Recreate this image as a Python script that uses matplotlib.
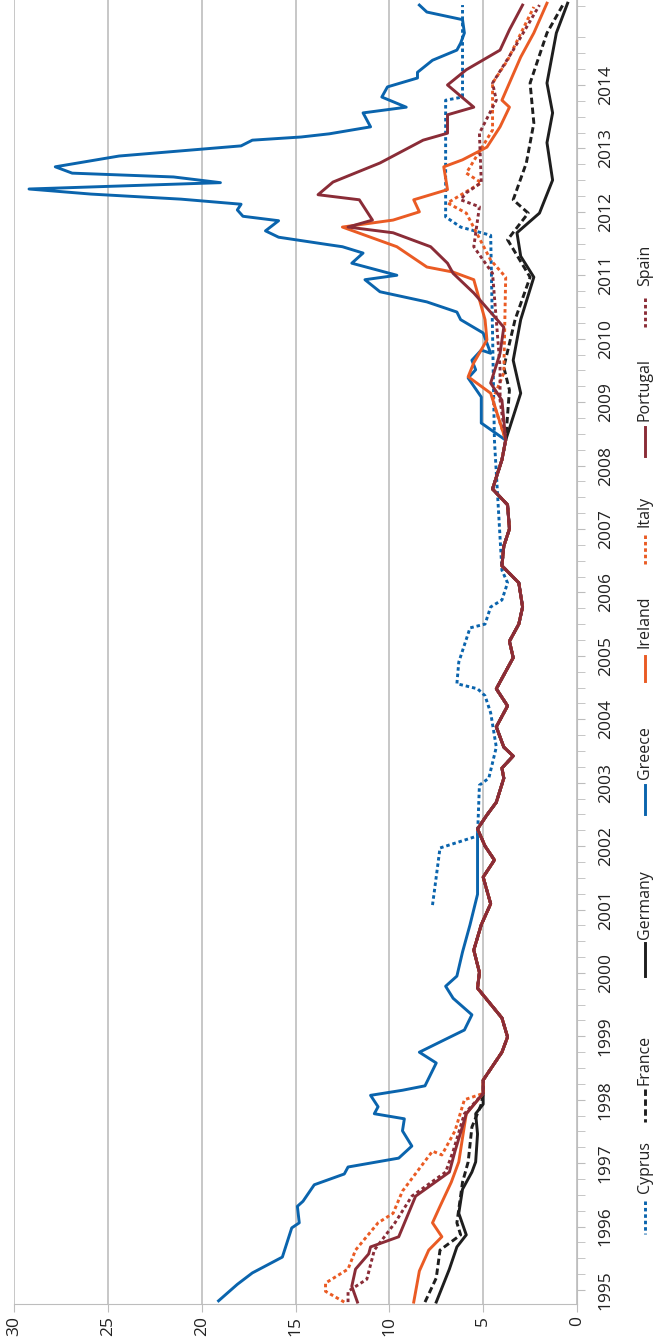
import matplotlib
matplotlib.use("Agg")
import matplotlib.pyplot as plt
from matplotlib.lines import Line2D

plt.rcParams['font.family'] = ['Open Sans', 'DejaVu Sans']

# years (fractional), 10-year government bond yields in %
# converged part shared by all (1998-2008)
core_t = [1998.1, 1998.31, 1998.75, 1998.99, 1999.29, 1999.76, 2000.01, 2000.36, 2000.76, 2001.09,
          2001.51, 2001.78, 2002.0, 2002.27, 2002.49, 2002.69, 2003.07, 2003.23, 2003.42, 2003.56,
          2003.88, 2004.21, 2004.48, 2004.97, 2005.23, 2005.5, 2005.77, 2006.15, 2006.42, 2006.73,
          2007.0, 2007.38, 2007.63, 2008.09, 2008.4]
core_v = [5.0, 5.0, 4.0, 3.7, 4.0, 5.3, 5.2, 5.5, 5.1, 4.6,
          5.0, 4.4, 4.9, 5.3, 4.8, 4.3, 3.9, 4.0, 3.4, 3.9,
          4.3, 3.7, 4.3, 3.4, 3.6, 3.1, 2.9, 3.1, 4.0, 3.9,
          3.6, 3.7, 4.5, 4.0, 3.8]

germany_early_t = [1994.81, 1995.33, 1995.68, 1995.87, 1996.21, 1996.59, 1996.86, 1997.02, 1997.46, 1997.78, 1997.93]
germany_early_v = [7.5, 6.8, 6.4, 5.9, 6.3, 6.1, 5.6, 5.4, 5.3, 5.4, 5.0]
germany_late_t = [2009.14, 2009.66, 2010.3, 2010.97, 2011.3, 2011.67, 2011.98, 2012.5, 2013.09, 2013.56, 2014.03, 2014.82, 2015.29]
germany_late_v = [3.0, 3.4, 3.0, 2.3, 3.0, 3.2, 2.0, 1.3, 1.6, 1.3, 1.6, 1.1, 0.5]

france_early_t = [1994.81, 1995.19, 1995.63, 1995.87, 1996.06, 1996.7, 1997.02, 1997.57, 1997.93]
france_early_v = [8.1, 7.5, 7.3, 6.2, 6.4, 6.1, 5.8, 5.6, 5.1]
france_late_t = [2009.19, 2009.55, 2010.3, 2010.97, 2011.56, 2011.98, 2012.19, 2012.77, 2013.4, 2014.03, 2014.82, 2015.29]
france_late_v = [3.6, 3.9, 3.3, 2.5, 3.7, 2.6, 3.4, 2.7, 2.3, 2.5, 1.6, 0.7]

ireland_early_t = [1994.81, 1995.3, 1995.63, 1995.84, 1996.06, 1996.32, 1996.7, 1997.02, 1997.78]
ireland_early_v = [8.7, 8.4, 7.9, 7.2, 7.7, 7.3, 6.7, 6.3, 5.9]
ireland_late_t = [2009.14, 2009.4, 2009.62, 2009.98, 2010.3, 2010.93, 2011.05, 2011.13, 2011.45, 2011.76,
                  2011.87, 2012.0, 2012.19, 2012.35, 2012.71, 2012.82, 2013.02, 2013.34, 2013.65, 2013.76,
                  2014.44, 2014.82, 2015.29]
ireland_late_v = [4.6, 5.8, 5.5, 4.8, 4.9, 5.5, 6.6, 8.0, 9.6, 12.5,
                  9.8, 8.4, 8.7, 6.9, 7.1, 6.1, 4.8, 4.1, 3.6, 4.0,
                  3.0, 2.3, 1.6]

portugal_early_t = [1994.81, 1995.06, 1995.33, 1995.57, 1995.68, 1995.84, 1996.48, 1996.86, 1997.19, 1997.78]
portugal_early_v = [11.7, 12.0, 11.8, 11.1, 11.0, 9.5, 8.6, 6.8, 6.5, 5.9]
portugal_late_t = [2009.03, 2009.3, 2009.77, 2010.18, 2010.72, 2011.03, 2011.19, 2011.45, 2011.67, 2011.76,
                   2011.87, 2012.19, 2012.27, 2012.47, 2012.77, 2013.13, 2013.24, 2013.53, 2013.65, 2014.0,
                   2014.24, 2014.55, 2014.87, 2015.26]
portugal_late_v = [4.0, 4.6, 4.1, 3.9, 5.5, 6.6, 6.9, 7.8, 9.8, 12.2,
                   10.9, 11.6, 13.8, 13.0, 10.5, 8.2, 6.9, 6.9, 5.5, 6.9,
                   5.9, 4.1, 3.6, 2.9]

italy_early_t = [1994.81, 1994.98, 1995.11, 1995.33, 1995.63, 1996.06, 1996.21, 1996.56, 1997.19, 1997.13, 1997.51, 1998.0]
italy_early_v = [12.4, 13.4, 13.4, 12.2, 11.8, 10.6, 9.8, 9.3, 7.7, 7.2, 6.5, 6.0]
italy_late_t = [2009.03, 2009.46, 2010.97, 2011.24, 2011.98, 2012.14, 2012.46, 2012.61, 2013.29, 2014.03, 2014.39, 2015.23]
italy_late_v = [4.5, 3.9, 3.8, 4.6, 5.9, 6.9, 5.1, 5.9, 4.5, 4.5, 3.7, 2.3]

spain_early_t = [1994.81, 1994.98, 1995.17, 1995.63, 1996.06, 1996.48, 1996.86, 1997.19, 1997.78]
spain_early_v = [12.2, 12.2, 11.2, 10.8, 9.7, 8.8, 7.0, 6.6, 6.0]
spain_late_t = [2009.03, 2009.55, 2011.03, 2011.45, 2012.08, 2012.19, 2012.3, 2012.46, 2013.24, 2013.76, 2014.03, 2014.55, 2015.26]
spain_late_v = [4.1, 4.1, 4.5, 5.5, 5.2, 6.2, 5.9, 5.1, 5.2, 4.3, 4.5, 3.4, 2.0]

greece_early_t = [1994.83, 1995.09, 1995.27, 1995.52, 1995.98, 1996.06, 1996.32, 1996.4, 1996.66, 1996.83,
                  1996.94, 1997.08, 1997.27, 1997.51, 1997.7, 1997.78, 1997.89, 1998.07, 1998.15, 1998.22,
                  1998.58, 1998.75, 1998.94, 1999.1, 1999.34, 1999.6, 1999.79, 1999.95, 2000.33, 2000.76,
                  2001.24, 2002.16]
greece_early_v = [19.1, 18.1, 17.3, 15.7, 15.2, 14.8, 14.9, 14.6, 14.0, 12.4,
                  12.2, 9.5, 8.8, 9.3, 9.2, 10.8, 10.6, 11.0, 9.3, 8.1,
                  7.5, 8.4, 7.1, 6.0, 5.6, 6.6, 7.0, 6.4, 6.1, 5.7,
                  5.3, 5.3]
greece_late_t = [2008.67, 2009.08, 2009.38, 2009.51, 2009.66, 2009.82, 2009.77, 2010.09, 2010.3, 2010.42,
                 2010.58, 2010.74, 2010.93, 2011.0, 2011.19, 2011.35, 2011.45, 2011.48, 2011.6, 2011.7,
                 2011.86, 2011.93, 2012.03, 2012.12, 2012.2, 2012.28, 2012.36, 2012.46, 2012.55, 2012.61,
                 2012.71, 2012.88, 2013.04, 2013.13, 2013.18, 2013.23, 2013.34, 2013.56, 2013.65, 2013.81,
                 2013.97, 2014.11, 2014.2, 2014.39, 2014.55, 2014.66, 2014.82, 2015.03, 2015.15, 2015.26]
greece_late_v = [5.1, 5.1, 5.8, 5.4, 5.6, 5.1, 4.6, 5.0, 6.2, 6.4,
                 8.0, 10.5, 11.3, 9.6, 12.0, 11.4, 12.5, 13.2, 15.9, 16.6,
                 15.9, 17.8, 18.1, 17.9, 21.1, 25.9, 29.2, 19.0, 21.5, 26.9,
                 27.8, 24.4, 17.9, 17.3, 14.7, 13.2, 11.0, 11.4, 9.1, 10.4,
                 10.1, 8.5, 8.5, 7.7, 6.4, 6.2, 6.0, 6.1, 8.0, 8.4]

cyprus_t = [2001.07, 2001.29, 2001.97, 2002.16, 2002.96, 2003.07, 2003.56, 2004.1, 2004.37, 2004.48,
            2004.56, 2004.9, 2005.44, 2005.5, 2005.77, 2005.88, 2006.15, 2006.35, 2008.4, 2010.09,
            2011.63, 2011.76, 2011.92, 2013.76, 2013.81, 2015.26]
cyprus_v = [7.7, 7.6, 7.3, 5.3, 5.2, 4.7, 4.3, 4.6, 4.9, 5.3,
            6.4, 6.3, 5.7, 4.9, 4.6, 4.0, 3.7, 4.0, 4.4, 4.5,
            4.6, 6.2, 7.0, 7.0, 6.1, 6.1]

blue = '#0a64ad'
orange = '#ea5b24'
darkred = '#8a2c37'
black = '#1e1e1e'

g0 = core_t.index(2002.27)
series = [
    ("Cyprus", cyprus_t, cyprus_v, blue, (0, (1.2, 1.0))),
    ("France", france_early_t + core_t + france_late_t, france_early_v + core_v + france_late_v, black, (0, (2.2, 1.2))),
    ("Germany", germany_early_t + core_t + germany_late_t, germany_early_v + core_v + germany_late_v, black, '-'),
    ("Greece", greece_early_t + core_t[g0:] + greece_late_t, greece_early_v + core_v[g0:] + greece_late_v, blue, '-'),
    ("Ireland", ireland_early_t + core_t + ireland_late_t, ireland_early_v + core_v + ireland_late_v, orange, '-'),
    ("Italy", italy_early_t + core_t + italy_late_t, italy_early_v + core_v + italy_late_v, orange, (0, (1.2, 1.0))),
    ("Portugal", portugal_early_t + core_t + portugal_late_t, portugal_early_v + core_v + portugal_late_v, darkred, '-'),
    ("Spain", spain_early_t + core_t + spain_late_t, spain_early_v + core_v + spain_late_v, darkred, (0, (1.2, 1.0))),
]

fig = plt.figure(figsize=(6.56, 13.42), dpi=100)
ax = fig.add_axes([14 / 656, 1 - 1304 / 1342, (577 - 14) / 656, 1304 / 1342])

for name, t, v, col, ls in series:
    ax.plot(v, t, color=col, linestyle=ls, linewidth=2.1)

ax.set_xticks([0, 5, 10, 15, 20, 25, 30])
ax.set_xticklabels(['0', '5', '10', '15', '20', '25', '30'], rotation=90, fontsize=12.5, color='#222222')
ax.grid(axis='x', color='#bdbdbd', linewidth=1.2)
ax.set_axisbelow(True)

years = list(range(1995, 2015))
ax.yaxis.tick_right()
ax.set_yticks(years)
ax.set_yticklabels([str(y) for y in years], rotation=90, fontsize=12.5, color='#222222', va='center')
ax.set_yticks([y + q / 4 for y in range(1994, 2016) for q in (1, 2, 3)
               if 1994.78 < y + q / 4 < 2015.34], minor=True)
ax.tick_params(axis='y', which='both', length=6, color='#bdbdbd', direction='out', pad=9)
ax.tick_params(axis='x', length=6, color='#bdbdbd', pad=3)
ax.set_xlim(30, 0)
ax.set_ylim(1994.78, 2015.34)

for s in ['top', 'left']:
    ax.spines[s].set_visible(False)
ax.spines['right'].set_color('#bdbdbd')
ax.spines['bottom'].set_color('#bdbdbd')

# legend drawn by hand, rotated like the chart
leg_x = 645 / 656
line_spans = [(1201, 1234), (1089, 1122), (943, 976), (785, 814), (656, 681), (535, 564), (427, 456), (298, 327)]
text_bottoms = [1193, 1085, 939, 779, 648, 527, 421, 286]
for (name, t, v, col, ls), (y0, y1), tb in zip(series, line_spans, text_bottoms):
    fig.add_artist(Line2D([leg_x, leg_x], [1 - y0 / 1342, 1 - y1 / 1342], color=col, linestyle=ls,
                          linewidth=2.1, transform=fig.transFigure))
    fig.text(leg_x, 1 - tb / 1342, name, rotation=90, ha='center', va='bottom',
             fontsize=11.5, color='#222222')

fig.savefig("out.png", dpi=100)
